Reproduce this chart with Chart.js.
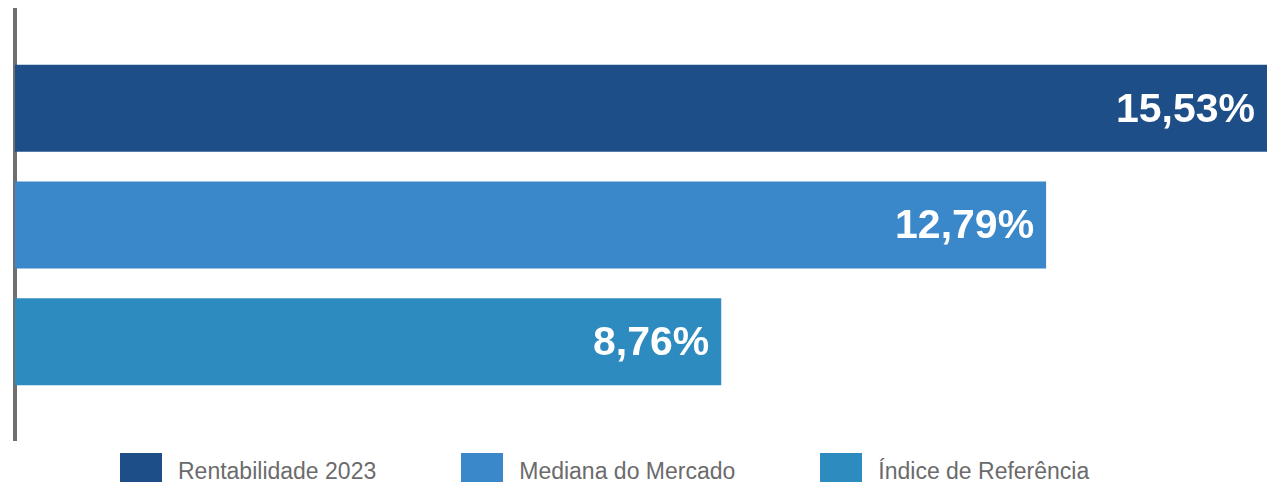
<!DOCTYPE html>
<html lang="pt-BR">
<head>
<meta charset="utf-8">
<title>Rentabilidade 2023</title>
<script src="https://cdn.jsdelivr.net/npm/chart.js@4.4.1/dist/chart.umd.min.js"></script>
<style>
  html, body {
    margin: 0;
    padding: 0;
    background: #ffffff;
    overflow: hidden;
  }
  .wrap {
    position: relative;
    width: 1267px;
    height: 482px;
    overflow: hidden;
  }
  #chart {
    position: absolute;
    left: 0;
    top: 0;
  }
  #legend {
    position: absolute;
    left: 120px;
    top: 453px;
    display: flex;
    gap: 85px;
    margin: 0;
    padding: 0;
    list-style: none;
    font-family: "Liberation Sans", Arial, Helvetica, sans-serif;
    font-size: 23px;
    color: #6b6b6b;
  }
  #legend li {
    display: flex;
    align-items: flex-start;
    gap: 16px;
  }
  #legend .box {
    width: 42px;
    height: 42px;
  }
  #legend .text {
    margin-top: 5px;
    white-space: nowrap;
  }
</style>
</head>
<body>
<div class="wrap">
  <canvas id="chart" width="1267" height="445"></canvas>
  <ul id="legend"></ul>
</div>
<script>
const categories = ["2023"];
const seriesNames = ["Rentabilidade 2023", "Mediana do Mercado", "Índice de Referência"];
const seriesValues = [15.53, 12.79, 8.76];
const seriesColors = ["#1e4e88", "#3a87ca", "#2e8bc0"];

const formatPercent = (value) =>
  `${new Intl.NumberFormat("pt-BR", {
    minimumFractionDigits: 2,
    maximumFractionDigits: 2,
  }).format(value)}%`;

// white value labels at the end of each bar
const valueLabels = {
  id: "valueLabels",
  afterDatasetsDraw(chart) {
    const { ctx } = chart;
    ctx.save();
    ctx.fillStyle = "#ffffff";
    ctx.font = "bold 41px 'Liberation Sans', Arial, sans-serif";
    ctx.textAlign = "right";
    ctx.textBaseline = "middle";
    chart.data.datasets.forEach((dataset, i) => {
      const meta = chart.getDatasetMeta(i);
      meta.data.forEach((bar, j) => {
        ctx.fillText(formatPercent(dataset.data[j]), bar.x - 12, bar.y + 2);
      });
    });
    ctx.restore();
  },
};

// legend built as html under the canvas
const htmlLegend = {
  id: "htmlLegend",
  afterUpdate(chart) {
    const list = document.getElementById("legend");
    list.innerHTML = "";
    const items = chart.options.plugins.legend.labels.generateLabels(chart);
    items.forEach((item) => {
      const li = document.createElement("li");
      const box = document.createElement("span");
      box.className = "box";
      box.style.background = item.fillStyle;
      const text = document.createElement("span");
      text.className = "text";
      text.textContent = item.text;
      li.appendChild(box);
      li.appendChild(text);
      list.appendChild(li);
    });
  },
};

const datasets = seriesNames.map((name, i) => ({
  label: name,
  data: [seriesValues[i]],
  backgroundColor: seriesColors[i],
  borderWidth: 0,
  categoryPercentage: 0.8145,
  barPercentage: 0.745,
}));

new Chart(document.getElementById("chart"), {
  type: "bar",
  data: { labels: categories, datasets },
  options: {
    indexAxis: "y",
    responsive: false,
    animation: false,
    devicePixelRatio: 1,
    layout: { padding: { top: 10, bottom: 5, left: 15, right: 0 } },
    plugins: {
      legend: { display: false },
      tooltip: { enabled: false },
    },
    scales: {
      x: {
        display: false,
        min: 0,
        max: 15.53,
      },
      y: {
        grid: { display: false, drawTicks: false },
        ticks: { display: false },
        border: { display: true, color: "#6f6f6f", width: 4 },
      },
    },
  },
  plugins: [valueLabels, htmlLegend],
});
</script>
</body>
</html>
